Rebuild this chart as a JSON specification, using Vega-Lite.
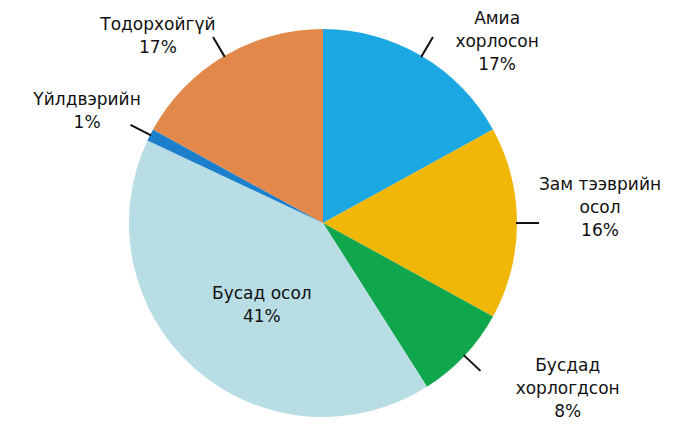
{
  "$schema": "https://vega.github.io/schema/vega-lite/v6.json",
  "width": 646,
  "height": 404,
  "autosize": "none",
  "padding": {"left": 0, "right": 29, "top": 21, "bottom": 0},
  "background": "white",
  "config": {"view": {"stroke": null}},
  "data": {
    "values": [
      {"cat": "Амиа хорлосон", "label": "Амиа\nхорлосон\n17%", "pct": 17, "i": 1},
      {"cat": "Зам тээврийн осол", "label": "Зам тээврийн\nосол\n16%", "pct": 16, "i": 2},
      {"cat": "Бусдад хорлогдсон", "label": "Бусдад\nхорлогдсон\n8%", "pct": 8, "i": 3},
      {"cat": "Бусад осол", "label": "Бусад осол\n41%", "pct": 41, "i": 4},
      {"cat": "Үйлдвэрийн", "label": "Үйлдвэрийн\n1%", "pct": 1, "i": 5},
      {"cat": "Тодорхойгүй", "label": "Тодорхойгүй\n17%", "pct": 17, "i": 6}
    ]
  },
  "encoding": {
    "theta": {"field": "pct", "type": "quantitative", "stack": true},
    "order": {"field": "i", "type": "quantitative"}
  },
  "layer": [
    {
      "mark": {"type": "arc", "radius": 194, "stroke": null},
      "encoding": {
        "color": {
          "field": "cat",
          "type": "nominal",
          "legend": null,
          "scale": {
            "domain": ["Амиа хорлосон", "Зам тээврийн осол", "Бусдад хорлогдсон", "Бусад осол", "Үйлдвэрийн", "Тодорхойгүй"],
            "range": ["#1BA7E1", "#F1B707", "#10A64B", "#B9DDE5", "#1B7FCB", "#E1884A"]
          }
        }
      }
    },
    {
      "mark": {"type": "arc", "padAngle": 3.2, "fill": null, "fillOpacity": 0, "stroke": "#111111", "strokeWidth": 2},
      "encoding": {
        "radius": {"value": 216},
        "radius2": {"value": 193},
        "strokeOpacity": {"condition": {"test": "datum.cat === 'Бусад осол'", "value": 0}, "value": 1}
      }
    },
    {
      "mark": {"type": "text", "font": "DejaVu Sans", "fontSize": 17, "lineHeight": 23, "lineBreak": "\n", "align": "center", "baseline": "middle", "color": "#111111", "dx": 57, "dy": -6},
      "encoding": {"radius": {"value": 230}, "text": {"condition": {"test": "datum.cat === 'Амиа хорлосон'", "field": "label"}, "value": ""}}
    },
    {
      "mark": {"type": "text", "font": "DejaVu Sans", "fontSize": 17, "lineHeight": 23, "lineBreak": "\n", "align": "center", "baseline": "middle", "color": "#111111", "dx": 47, "dy": -38},
      "encoding": {"radius": {"value": 230}, "text": {"condition": {"test": "datum.cat === 'Зам тээврийн осол'", "field": "label"}, "value": ""}}
    },
    {
      "mark": {"type": "text", "font": "DejaVu Sans", "fontSize": 17, "lineHeight": 23, "lineBreak": "\n", "align": "center", "baseline": "middle", "color": "#111111", "dx": 77, "dy": -14},
      "encoding": {"radius": {"value": 230}, "text": {"condition": {"test": "datum.cat === 'Бусдад хорлогдсон'", "field": "label"}, "value": ""}}
    },
    {
      "mark": {"type": "text", "font": "DejaVu Sans", "fontSize": 17, "lineHeight": 23, "lineBreak": "\n", "align": "center", "baseline": "middle", "color": "#111111", "dx": 5, "dy": -4},
      "encoding": {"radius": {"value": 100}, "text": {"condition": {"test": "datum.cat === 'Бусад осол'", "field": "label"}, "value": ""}}
    },
    {
      "mark": {"type": "text", "font": "DejaVu Sans", "fontSize": 17, "lineHeight": 23, "lineBreak": "\n", "align": "center", "baseline": "middle", "color": "#111111", "dx": -31, "dy": -19},
      "encoding": {"radius": {"value": 230}, "text": {"condition": {"test": "datum.cat === 'Үйлдвэрийн'", "field": "label"}, "value": ""}}
    },
    {
      "mark": {"type": "text", "font": "DejaVu Sans", "fontSize": 17, "lineHeight": 23, "lineBreak": "\n", "align": "center", "baseline": "middle", "color": "#111111", "dx": -48, "dy": 0},
      "encoding": {"radius": {"value": 230}, "text": {"condition": {"test": "datum.cat === 'Тодорхойгүй'", "field": "label"}, "value": ""}}
    }
  ]
}
